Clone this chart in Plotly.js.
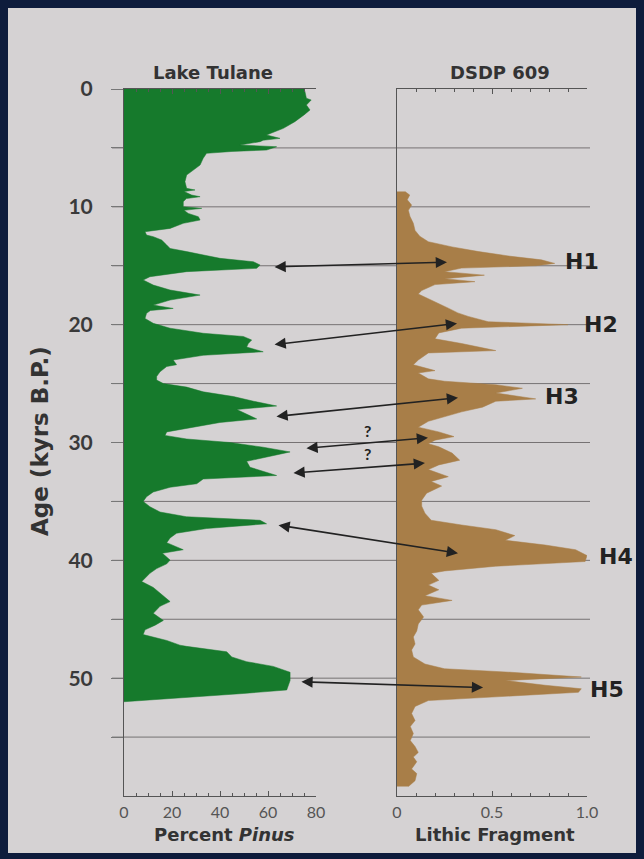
<!DOCTYPE html>
<html>
<head>
<meta charset="utf-8">
<script src="https://cdn.plot.ly/plotly-3.0.1.min.js"></script>
<style>html,body{margin:0;padding:0;background:#0e1c3c;}#chart{width:644px;height:859px;}</style>
</head>
<body>
<div id="chart"></div>
<script>
// Lake Tulane: age (kyrs B.P.) and Percent Pinus
const ageTulane = [0.0,0.23,0.79,0.93,1.36,1.78,2.2,2.77,3.34,3.9,4.19,4.35,4.47,4.75,4.9,5.18,5.3,5.46,5.88,6.45,6.88,7.3,7.87,8.43,8.57,8.7,9.0,9.14,9.3,9.56,9.99,10.13,10.3,10.56,10.84,11.12,11.4,11.83,12.11,12.4,12.53,12.82,13.24,13.53,13.8,14.09,14.37,14.66,14.94,15.22,15.5,15.93,16.21,16.64,17.06,17.49,17.91,18.34,18.62,18.8,19.04,19.47,19.89,20.3,20.73,21.0,21.3,21.6,21.9,22.3,22.6,23.0,23.4,23.55,24.0,24.4,24.7,25.0,25.3,25.7,26.1,26.5,26.9,27.2,27.6,28.0,28.3,28.8,29.1,29.4,29.7,30.0,30.4,30.8,31.2,31.6,32.1,32.5,32.8,33.1,33.5,33.8,34.2,34.6,35.0,35.45,35.9,36.3,36.6,36.9,37.3,37.7,38.1,38.5,39.1,39.4,39.98,40.3,40.7,41.1,41.8,42.3,42.8,43.5,43.9,44.5,45.1,45.5,45.9,46.3,46.8,47.2,47.3,47.6,47.76,48.2,48.6,49.0,49.5,50.2,51.0,51.3,51.6,51.9,52.0];
const pinus = [75,75.4,76,78,76,77.5,75,71.2,66.4,59.4,65,58,56.7,48.3,63.6,59.4,45,34.4,33,31.7,28.9,26.1,25.4,26.1,29.6,25,28.2,31.7,26,24.7,24.7,32.4,25,26.8,31,31.7,24.7,19.2,8.75,9.4,12.2,15.7,17.8,19.2,26.1,33,40,53.9,56.7,55.3,26.1,10.8,8,12.2,19.2,31.7,19.2,12.2,20.5,11,9.4,8.75,12.2,19.2,33,49.7,53.2,51.8,51.1,58,33,20.5,21.9,17.8,15,13.6,13.6,16.4,26.1,33,45.6,54,63.6,47,51,55.3,40,26,17.8,17.1,26.1,44.2,58,69.2,60.8,51.1,52.5,59.4,63.6,33,30.3,19.2,12.2,9.4,8,10.8,15,26,56.7,59.4,34.4,21.9,19.2,17.8,24.7,16,19.2,17.8,13.6,10.8,7.4,12.2,15,19.2,15,12.2,16.4,13,8.75,8,17.8,23.3,26,35.8,42.8,44.9,51.1,62.2,69.2,69.2,67.8,49.7,28.9,8,0];

// DSDP 609: age (kyrs B.P.) and lithic fragment
const ageDSDP = [8.7,9.0,9.4,9.85,10.3,10.8,11.4,12.0,12.5,12.96,13.4,13.8,14.2,14.5,14.8,15.0,15.2,15.5,15.8,16.1,16.35,16.6,17.1,17.4,17.8,18.2,18.6,19.0,19.3,19.75,20.0,20.3,20.7,21.2,21.6,22.2,22.4,23.0,23.4,23.9,24.1,24.6,24.8,25.1,25.4,25.8,26.3,26.5,27.0,27.4,27.8,28.2,28.7,29.1,29.5,29.8,30.1,30.36,30.9,31.5,31.9,32.3,32.9,33.3,33.7,34.3,34.9,35.4,36.0,36.6,37.0,37.4,37.9,38.3,38.7,39.1,39.6,40.1,40.5,40.9,41.1,41.7,42.1,42.5,43.0,43.4,43.8,44.2,44.8,45.4,46.0,46.5,47.1,47.6,48.2,48.8,49.2,49.5,49.9,50.2,50.6,50.9,51.2,51.6,51.9,52.4,53.0,53.6,54.1,54.7,55.3,55.8,56.3,56.7,57.1,57.7,58.1,58.7,59.2];
const lithic = [0.042,0.067,0.054,0.077,0.06,0.068,0.086,0.095,0.12,0.165,0.29,0.43,0.60,0.76,0.83,0.73,0.34,0.25,0.46,0.25,0.41,0.2,0.13,0.112,0.165,0.22,0.27,0.32,0.375,0.48,0.9,0.34,0.22,0.2,0.34,0.52,0.165,0.112,0.086,0.2,0.112,0.165,0.25,0.52,0.66,0.52,0.73,0.52,0.45,0.34,0.25,0.165,0.112,0.22,0.3,0.2,0.165,0.22,0.29,0.33,0.22,0.165,0.27,0.18,0.235,0.156,0.13,0.13,0.147,0.18,0.34,0.52,0.62,0.57,0.78,0.94,1.0,0.99,0.52,0.25,0.18,0.22,0.165,0.22,0.147,0.29,0.13,0.112,0.14,0.112,0.104,0.086,0.095,0.077,0.086,0.147,0.25,0.6,0.97,0.57,0.78,0.97,0.955,0.52,0.165,0.095,0.077,0.095,0.07,0.086,0.07,0.095,0.112,0.086,0.104,0.077,0.104,0.095,0.06];

// Correlation arrows: Tulane end (percent, age) -> DSDP end (lithic, age)
const arrowPinus = [62.1,62.1,62.9,75.4,70.0,63.75,73.3];
const arrowAgeT  = [15.1,21.7,27.8,30.5,32.6,37.0,50.3];
const arrowLith  = [0.263,0.316,0.321,0.163,0.147,0.321,0.453];
const arrowAgeD  = [14.7,19.9,26.2,29.6,31.75,39.4,50.8];

// Heinrich event labels (left edge in lithic units, age)
const hLabels = ['H1','H2','H3','H4','H5'];
const hLith   = [0.874,0.974,0.768,1.053,1.005];
const hAge    = [14.6,19.95,26.1,39.7,51.0];

// Question marks
const qLith = [-0.153,-0.153];
const qAge  = [28.95,30.9];

const yTicks = [0,5,10,15,20,25,30,35,40,45,50,55];
const yTickText = ['0','','10','','20','','30','','40','','50',''];
const gridAges = [5,10,15,20,25,30,35,40,45,50,55];

const W = 644, H = 859;
const FONT = 'Lato, "Open Sans", sans-serif';
const TFONT = '"DejaVu Sans", sans-serif';
const INK = '#333333';
const AX = '#555555';

const xaxis = {domain:[124/W,316/W], range:[0,80], anchor:'y', showline:true, linecolor:AX, linewidth:1,
  mirror:'ticks', ticks:'inside', ticklen:5, tickcolor:AX, tickvals:[0,20,40,60,80],
  minor:{dtick:5, ticks:'inside', ticklen:3, tickcolor:AX},
  tickfont:{family:FONT,size:16,color:'#555'}, showgrid:false, zeroline:false, fixedrange:true, ticklabelstandoff:2};
const xaxis2 = {domain:[397/W,587/W], range:[0,1], anchor:'y2', showline:true, linecolor:AX, linewidth:1,
  mirror:'ticks', ticks:'inside', ticklen:5, tickcolor:AX, tickvals:[0,0.5,1], ticktext:['0','0.5','1.0'],
  minor:{dtick:0.1, ticks:'inside', ticklen:3, tickcolor:AX},
  tickfont:{family:FONT,size:16,color:'#555'}, showgrid:false, zeroline:false, fixedrange:true, ticklabelstandoff:2};
const ydom = [1-796/H, 1-89/H];
const yaxis = {domain:ydom, range:[60,0], anchor:'x', showline:true, linecolor:AX, linewidth:1,
  ticks:'outside', ticklen:12, tickcolor:'#777', tickvals:yTicks, ticktext:yTickText,
  tickfont:{family:FONT,size:21,color:'#3a3a3a',weight:'bold'}, showgrid:false, zeroline:false, fixedrange:true, ticklabelstandoff:14};
const yaxis2 = {domain:ydom, range:[60,0], anchor:'x2', matches:'y', showline:true, linecolor:AX, linewidth:1,
  ticks:'', showticklabels:false, showgrid:false, zeroline:false, fixedrange:true};
const xaxis3 = {domain:[0,1], range:[0,1], anchor:'y', visible:false, fixedrange:true};

function toPaper(ax, v){ return ax.domain[0] + (v-ax.range[0])/(ax.range[1]-ax.range[0])*(ax.domain[1]-ax.domain[0]); }

const traces = [
  {type:'scatter', mode:'lines', x:pinus, y:ageTulane, xaxis:'x', yaxis:'y', fill:'tozerox',
   fillcolor:'#167a2c', line:{color:'#167a2c', width:0.5}, hoverinfo:'skip'},
  {type:'scatter', mode:'lines', x:lithic, y:ageDSDP, xaxis:'x2', yaxis:'y2', fill:'tozerox',
   fillcolor:'#a87e48', line:{color:'#a87e48', width:0.5}, hoverinfo:'skip'}
];

const shapes = [
  {type:'rect', xref:'paper', yref:'paper', x0:8/W, x1:636/W, y0:1-853/H, y1:1-8/H,
   fillcolor:'#d5d2d3', line:{width:0}, layer:'below'}
];
gridAges.forEach(g => shapes.push({type:'line', xref:'paper', yref:'y', x0:112/W, x1:590/W, y0:g, y1:g,
  line:{color:'#767273', width:1}, layer:'below'}));

const annotations = [
  {xref:'paper', yref:'paper', x:213/W, y:1-72/H, text:'Lake Tulane', showarrow:false,
   font:{family:TFONT,size:18,color:INK,weight:'bold'}, xanchor:'center', yanchor:'middle'},
  {xref:'paper', yref:'paper', x:500/W, y:1-72/H, text:'DSDP 609', showarrow:false,
   font:{family:TFONT,size:18,color:INK,weight:'bold'}, xanchor:'center', yanchor:'middle'},
  {xref:'paper', yref:'paper', x:40/W, y:1-441/H, text:'Age (kyrs B.P.)', showarrow:false, textangle:-90,
   font:{family:TFONT,size:23,color:INK,weight:'bold'}, xanchor:'center', yanchor:'middle'},
  {xref:'paper', yref:'paper', x:224/W, y:1-834/H, text:'Percent <i>Pinus</i>', showarrow:false,
   font:{family:TFONT,size:18,color:INK,weight:'bold'}, xanchor:'center', yanchor:'middle'},
  {xref:'paper', yref:'paper', x:495/W, y:1-834/H, text:'Lithic Fragment', showarrow:false,
   font:{family:TFONT,size:18,color:INK,weight:'bold'}, xanchor:'center', yanchor:'middle'}
];
hLabels.forEach((t,i) => annotations.push({xref:'x3', yref:'y', x:toPaper(xaxis2, hLith[i]), y:hAge[i], text:t, showarrow:false,
  xanchor:'left', yanchor:'middle', font:{family:TFONT,size:22,color:'#222',weight:'bold'}}));
qAge.forEach((a,i) => annotations.push({xref:'x3', yref:'y', x:toPaper(xaxis2, qLith[i]), y:a, text:'?', showarrow:false,
  xanchor:'center', yanchor:'middle', font:{family:FONT,size:16,color:'#222',weight:'bold'}}));
arrowAgeT.forEach((a,i) => annotations.push({xref:'x3', yref:'y', axref:'x3', ayref:'y',
  x:toPaper(xaxis2, arrowLith[i]), y:arrowAgeD[i], ax:toPaper(xaxis, arrowPinus[i]), ay:a,
  text:'', showarrow:true, arrowside:'end+start', arrowhead:2, startarrowhead:2,
  arrowsize:1.4, startarrowsize:1.4, arrowwidth:1.6, arrowcolor:'#222', standoff:0, startstandoff:0}));

const layout = {width:W, height:H, margin:{l:0,r:0,t:0,b:0}, paper_bgcolor:'#0e1c3c', plot_bgcolor:'rgba(0,0,0,0)',
  showlegend:false, xaxis, xaxis2, xaxis3, yaxis, yaxis2, shapes, annotations, font:{family:FONT}};

Plotly.newPlot('chart', traces, layout, {staticPlot:true, displayModeBar:false});
</script>
</body>
</html>
